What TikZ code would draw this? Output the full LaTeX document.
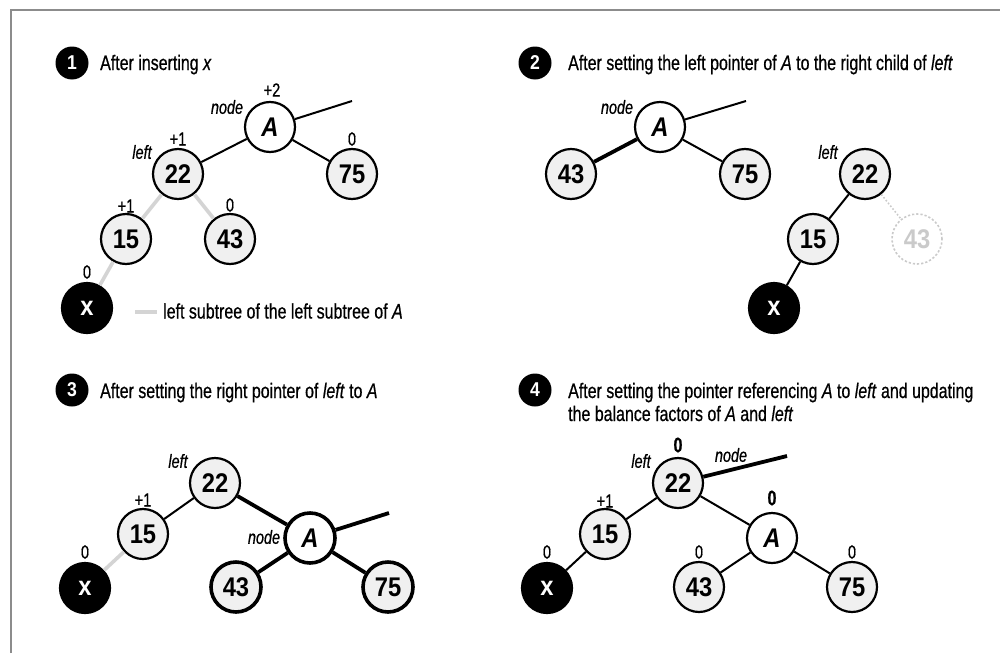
\documentclass[tikz,border=0pt]{standalone}
\usepackage{fontspec}
\setmainfont{Liberation Sans}[FakeStretch=0.76, FakeBold=0.6]
\newfontfamily\numfont{Liberation Sans}[FakeStretch=0.88]
\definecolor{nodegray}{HTML}{F0F0F0}
\definecolor{subgray}{HTML}{D4D4D4}
\definecolor{ghostgray}{HTML}{CACACA}
\definecolor{framegray}{HTML}{8C8C8C}
\begin{document}
\begin{tikzpicture}[x=1pt,y=-1pt,
  tn/.style={circle, draw=black, line width=2.2pt, fill=nodegray, minimum size=50pt, inner sep=0pt,
    font=\numfont\bfseries\fontsize{27}{27}\selectfont},
  an/.style={tn, fill=white},
  xn/.style={tn, fill=black, text=white},
  thicknode/.style={line width=3.6pt},
  ghost/.style={tn, draw=ghostgray, fill=white, text=ghostgray, dotted, line width=1.6pt},
  edge/.style={draw=black, line width=2pt},
  thickedge/.style={draw=black, line width=3.8pt},
  subedge/.style={draw=subgray, line width=3.6pt},
  ghostedge/.style={draw=ghostgray, line width=1.6pt, dotted},
  bullet/.style={circle, fill=black, text=white, minimum size=33pt, inner sep=0pt,
    font=\numfont\bfseries\fontsize{20}{20}\selectfont},
  title/.style={anchor=base west, inner sep=0pt, font=\fontsize{21}{23}\selectfont, align=left},
  lab/.style={inner sep=0pt, font=\fontsize{19}{19}\selectfont},
  ilab/.style={inner sep=0pt, font=\itshape\fontsize{19}{19}\selectfont},
  blab/.style={inner sep=0pt, font=\bfseries\fontsize{21}{21}\selectfont}
]
\useasboundingbox (0,0) rectangle (1000,653);
\draw[framegray, line width=2.5pt] (11,653) -- (11,10) -- (1000,10);

% ---------- Panel 1 ----------
\node[bullet] (b1) at (72,63) {1};
\node[title] (t1) at (100,70) {After inserting \textit{x}};
\node[an] (A1) at (270,127) {\itshape A};
\node[tn] (a22) at (178,174) {22};
\node[tn] (a75) at (352,174) {75};
\node[tn] (a15) at (126,239) {15};
\node[tn] (a43) at (230,239) {43};
\node[xn] (ax) at (87,308) {x};
\coordinate (ap) at (352,101);
\draw[edge] (A1) -- (a22);
\draw[edge] (A1) -- (a75);
\draw[edge] (A1) -- (ap);
\draw[subedge] (a22) -- (a15);
\draw[subedge] (a22) -- (a43);
\draw[subedge] (a15) -- (ax);
\node[lab] (l1a) at (272,90) {+2};
\node[ilab] (l1b) at (227,107) {node};
\node[ilab] (l1c) at (142,152) {left};
\node[lab] (l1d) at (178,139) {+1};
\node[lab] (l1e) at (352,139) {0};
\node[lab] (l1f) at (126,206) {+1};
\node[lab] (l1g) at (230,205) {0};
\node[lab] (l1h) at (87,272) {0};
\coordinate (lg1) at (135,312);
\coordinate (lg2) at (157,312);
\draw[subedge] (lg1) -- (lg2);
\node[title, anchor=west] (lgt) at (163,311) {left subtree of the left subtree of \textit{A}};

% ---------- Panel 2 ----------
\node[bullet] (b2) at (535,63) {2};
\node[title] (t2) at (568,70) {After setting the left pointer of \textit{A} to the right child of \textit{left}};
\node[an] (A2) at (660,127) {\itshape A};
\node[tn] (b43) at (571,174) {43};
\node[tn] (b75) at (745,174) {75};
\node[tn] (b22) at (865,174) {22};
\node[tn] (b15) at (813,239) {15};
\node[ghost] (bg43) at (917,239) {43};
\node[xn] (bx) at (774,308) {x};
\coordinate (bp) at (746,101);
\draw[thickedge] (A2) -- (b43);
\draw[edge] (A2) -- (b75);
\draw[edge] (A2) -- (bp);
\draw[edge] (b22) -- (b15);
\draw[edge] (b15) -- (bx);
\draw[ghostedge] (b22) -- (bg43);
\node[ilab] (l2a) at (617,107) {node};
\node[ilab] (l2b) at (828,152) {left};

% ---------- Panel 3 ----------
\node[bullet] (b3) at (72,390) {3};
\node[title] (t3) at (100,398) {After setting the right pointer of \textit{left} to \textit{A}};
\node[tn] (c22) at (215,483) {22};
\node[tn] (c15) at (143,534) {15};
\node[xn] (cx) at (85,588) {x};
\node[an, thicknode] (A3) at (310,538) {\itshape A};
\node[tn, thicknode] (c43) at (236,587) {43};
\node[tn, thicknode] (c75) at (388,587) {75};
\coordinate (cp) at (389,513);
\draw[edge] (c22) -- (c15);
\draw[subedge] (c15) -- (cx);
\draw[thickedge] (c22) -- (A3);
\draw[thickedge] (A3) -- (c43);
\draw[thickedge] (A3) -- (c75);
\draw[thickedge] (A3) -- (cp);
\node[ilab] (l3a) at (178,461) {left};
\node[lab] (l3b) at (143,500) {+1};
\node[lab] (l3c) at (85,552) {0};
\node[ilab] (l3d) at (264,537) {node};

% ---------- Panel 4 ----------
\node[bullet] (b4) at (535,390) {4};
\node[title] (t4) at (568,421) {After setting the pointer referencing \textit{A} to \textit{left} and updating\\the balance factors of \textit{A} and \textit{left}};
\node[tn] (d22) at (678,483) {22};
\node[tn] (d15) at (605,534) {15};
\node[xn] (dx) at (547,588) {x};
\node[an] (A4) at (772,538) {\itshape A};
\node[tn] (d43) at (699,587) {43};
\node[tn] (d75) at (852,587) {75};
\coordinate (dp) at (787,456);
\draw[edge] (d22) -- (d15);
\draw[edge] (d15) -- (dx);
\draw[edge] (d22) -- (A4);
\draw[edge] (A4) -- (d43);
\draw[edge] (A4) -- (d75);
\draw[thickedge] (d22) -- (dp);
\node[blab] (l4a) at (678,445) {0};
\node[ilab] (l4b) at (641,461) {left};
\node[ilab] (l4c) at (731,455) {node};
\node[lab] (l4d) at (605,501) {+1};
\node[blab] (l4e) at (772,498) {0};
\node[lab] (l4f) at (547,552) {0};
\node[lab] (l4g) at (699,552) {0};
\node[lab] (l4h) at (852,552) {0};
\end{tikzpicture}
\end{document}
